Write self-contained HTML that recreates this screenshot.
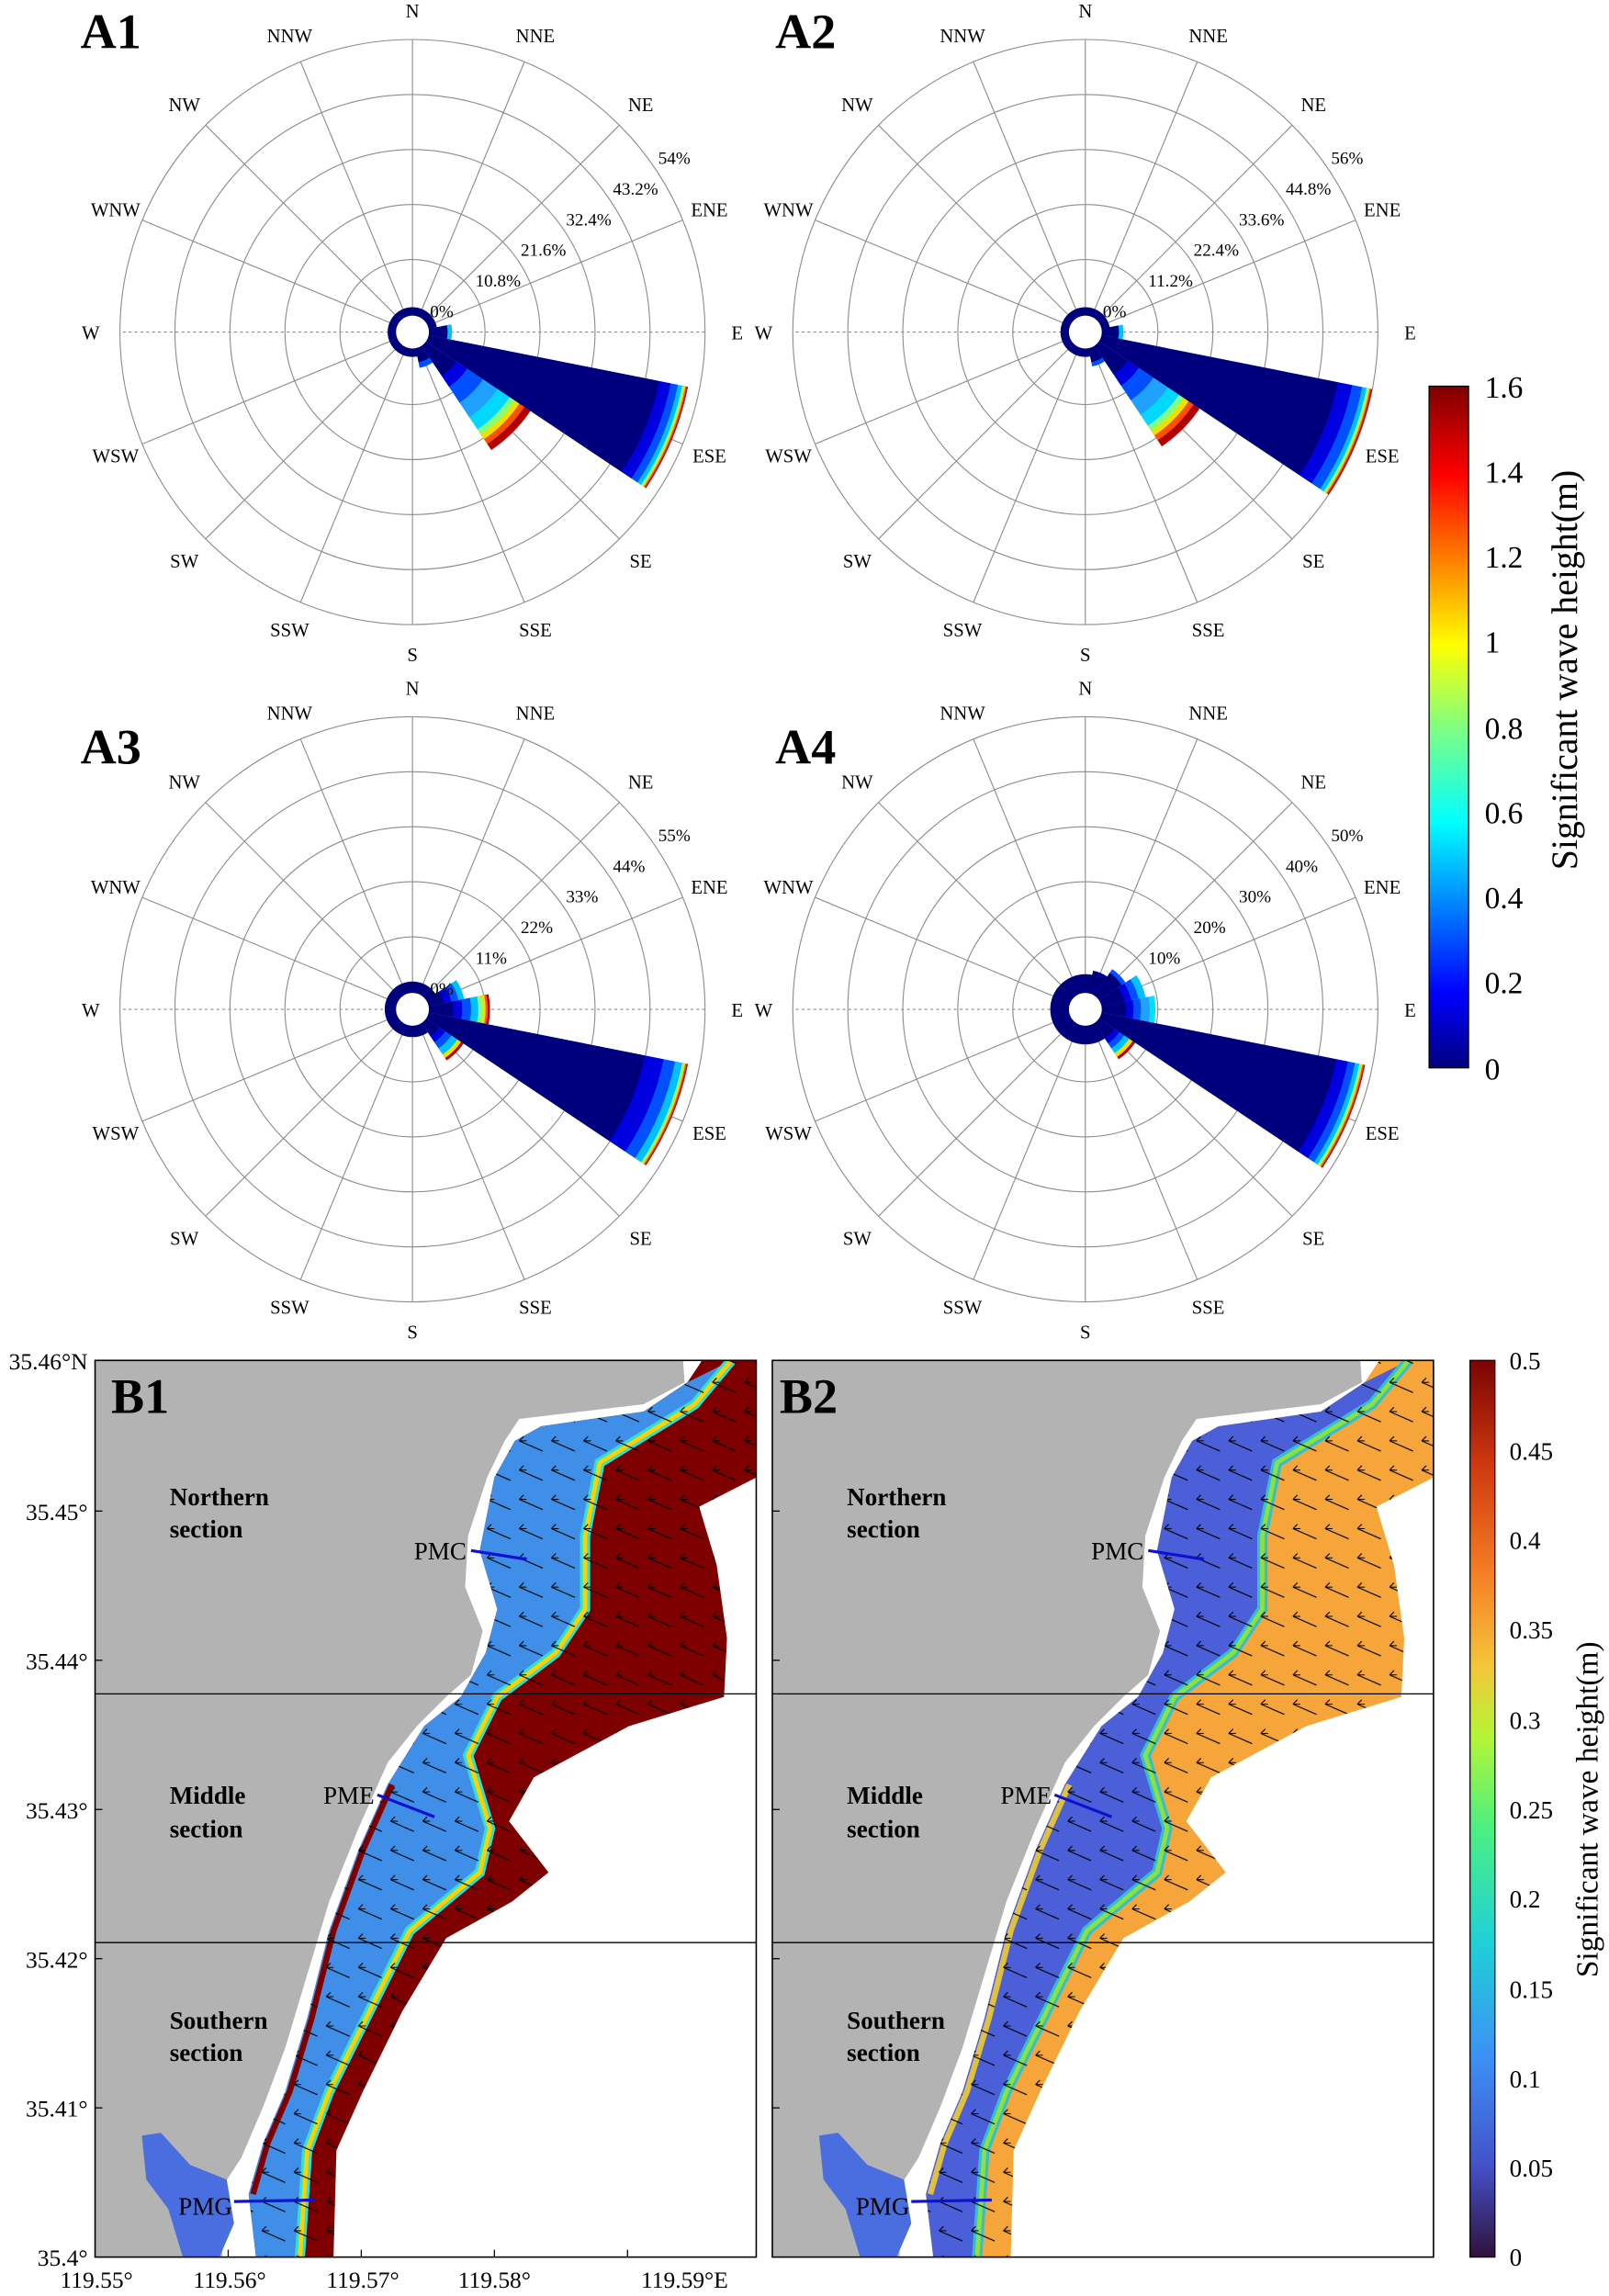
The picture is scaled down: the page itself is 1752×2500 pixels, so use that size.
<!DOCTYPE html>
<html><head><meta charset="utf-8">
<style>
html,body{margin:0;padding:0;background:#fff;}
svg{display:block;}
text{font-family:"Liberation Serif",serif;}
</style></head>
<body>
<svg width="1752" height="2500" viewBox="0 0 1100 1569.6" preserveAspectRatio="none" xmlns="http://www.w3.org/2000/svg" xmlns:xlink="http://www.w3.org/1999/xlink">
<defs>
<linearGradient id="jet" x1="0" y1="1" x2="0" y2="0">
<stop offset="0" stop-color="#00007f"/><stop offset="0.11" stop-color="#0000ff"/><stop offset="0.36" stop-color="#00ffff"/><stop offset="0.5" stop-color="#80ff80"/><stop offset="0.62" stop-color="#ffff00"/><stop offset="0.87" stop-color="#ff0000"/><stop offset="1" stop-color="#7f0000"/>
</linearGradient>
<linearGradient id="cb2" x1="0" y1="1" x2="0" y2="0">
<stop offset="0" stop-color="#30123b"/><stop offset="0.1" stop-color="#4450c8"/><stop offset="0.22" stop-color="#3d8ff5"/><stop offset="0.35" stop-color="#1fd0d8"/><stop offset="0.48" stop-color="#4cf080"/><stop offset="0.58" stop-color="#b5f535"/><stop offset="0.66" stop-color="#f5c53a"/><stop offset="0.76" stop-color="#f58025"/><stop offset="0.88" stop-color="#d03a10"/><stop offset="1" stop-color="#7a0403"/>
</linearGradient>
<clipPath id="c1"><rect x="65" y="930" width="452" height="613"/></clipPath>
<clipPath id="c2"><rect x="528" y="930" width="452" height="613"/></clipPath>
<path id="u" d="M0,0 L-0.1951,-0.9808 A1,1 0 0 1 0.1951,-0.9808 Z"/>
<pattern id="arr" width="22" height="20" patternUnits="userSpaceOnUse">
<path d="M19,12 l-16,-7 m0,0 l5,0 m-5,0 l3,-3" stroke="#000" stroke-width="0.7" fill="none"/>
</pattern>
<g id="grid" fill="none" stroke="#8c8c8c" stroke-width="0.7">
<circle r="12"/><circle r="49.6"/><circle r="87.2"/><circle r="124.8"/><circle r="162.4"/><circle r="200"/>
<line x1="0" y1="-200" x2="0" y2="200"/>
<line x1="0" y1="-200" x2="0" y2="200" transform="rotate(22.5)"/>
<line x1="0" y1="-200" x2="0" y2="200" transform="rotate(45)"/>
<line x1="0" y1="-200" x2="0" y2="200" transform="rotate(67.5)"/>
<line x1="0" y1="-200" x2="0" y2="200" transform="rotate(90)" stroke-dasharray="2,2"/>
<line x1="0" y1="-200" x2="0" y2="200" transform="rotate(112.5)"/>
<line x1="0" y1="-200" x2="0" y2="200" transform="rotate(135)"/>
<line x1="0" y1="-200" x2="0" y2="200" transform="rotate(157.5)"/>
</g>
<g id="dl" font-size="13" text-anchor="middle">
<text x="0" y="-215">N</text><text x="84" y="-198">NNE</text><text x="156" y="-151">NE</text><text x="203" y="-79">ENE</text><text x="222" y="5">E</text><text x="203" y="89">ESE</text><text x="156" y="161">SE</text><text x="84" y="208">SSE</text><text x="0" y="225">S</text><text x="-84" y="208">SSW</text><text x="-156" y="161">SW</text><text x="-203" y="89">WSW</text><text x="-220" y="5">W</text><text x="-203" y="-79">WNW</text><text x="-156" y="-151">NW</text><text x="-84" y="-198">NNW</text>
</g>
</defs>

<!-- A1 -->
<g transform="translate(282,227)">
<use xlink:href="#grid"/>
<circle r="17" fill="#00007f"/>
<g transform="rotate(90)"><use xlink:href="#u" fill="#00c0ff" transform="scale(27)"/><use xlink:href="#u" fill="#00007f" transform="scale(24)"/></g>
<g transform="rotate(157.5)"><use xlink:href="#u" fill="#0050ff" transform="scale(25)"/><use xlink:href="#u" fill="#00007f" transform="scale(21)"/></g>
<g transform="rotate(135)">
<use xlink:href="#u" fill="#b00000" transform="scale(97)"/><use xlink:href="#u" fill="#ff5000" transform="scale(92)"/><use xlink:href="#u" fill="#f0e000" transform="scale(88)"/><use xlink:href="#u" fill="#80ff80" transform="scale(84)"/><use xlink:href="#u" fill="#00d8ff" transform="scale(80)"/><use xlink:href="#u" fill="#20a0ff" transform="scale(70)"/><use xlink:href="#u" fill="#0050ff" transform="scale(58)"/><use xlink:href="#u" fill="#0000e0" transform="scale(45)"/><use xlink:href="#u" fill="#00007f" transform="scale(36)"/>
</g>
<g transform="rotate(112.5)">
<use xlink:href="#u" fill="#b00000" transform="scale(192)"/><use xlink:href="#u" fill="#ff5000" transform="scale(191.1)"/><use xlink:href="#u" fill="#f0e000" transform="scale(190.2)"/><use xlink:href="#u" fill="#80ff80" transform="scale(189.2)"/><use xlink:href="#u" fill="#00c0ff" transform="scale(188)"/><use xlink:href="#u" fill="#0050ff" transform="scale(185)"/><use xlink:href="#u" fill="#0000e0" transform="scale(180)"/><use xlink:href="#u" fill="#00007f" transform="scale(172)"/>
</g>
<circle r="12" fill="#fff" stroke="#00007f" stroke-width="1.5"/>
<use xlink:href="#dl"/>
<g font-size="12"><text x="12" y="-10">0%</text><text x="43" y="-31">10.8%</text><text x="74" y="-52">21.6%</text><text x="105" y="-73">32.4%</text><text x="137" y="-94">43.2%</text><text x="168" y="-115">54%</text></g>
</g>

<!-- A2 -->
<g transform="translate(742,227)">
<use xlink:href="#grid"/>
<circle r="17" fill="#00007f"/>
<g transform="rotate(90)"><use xlink:href="#u" fill="#00c0ff" transform="scale(26)"/><use xlink:href="#u" fill="#00007f" transform="scale(23)"/></g>
<g transform="rotate(157.5)"><use xlink:href="#u" fill="#0050ff" transform="scale(24)"/><use xlink:href="#u" fill="#00007f" transform="scale(21)"/></g>
<g transform="rotate(135)">
<use xlink:href="#u" fill="#b00000" transform="scale(94)"/><use xlink:href="#u" fill="#ff5000" transform="scale(89)"/><use xlink:href="#u" fill="#f0e000" transform="scale(85)"/><use xlink:href="#u" fill="#80ff80" transform="scale(81)"/><use xlink:href="#u" fill="#00d8ff" transform="scale(77)"/><use xlink:href="#u" fill="#20a0ff" transform="scale(68)"/><use xlink:href="#u" fill="#0050ff" transform="scale(56)"/><use xlink:href="#u" fill="#0000e0" transform="scale(44)"/><use xlink:href="#u" fill="#00007f" transform="scale(35)"/>
</g>
<g transform="rotate(112.5)">
<use xlink:href="#u" fill="#b00000" transform="scale(200)"/><use xlink:href="#u" fill="#ff5000" transform="scale(199.1)"/><use xlink:href="#u" fill="#f0e000" transform="scale(198.2)"/><use xlink:href="#u" fill="#80ff80" transform="scale(197.2)"/><use xlink:href="#u" fill="#00c0ff" transform="scale(196)"/><use xlink:href="#u" fill="#0050ff" transform="scale(193)"/><use xlink:href="#u" fill="#0000e0" transform="scale(186)"/><use xlink:href="#u" fill="#00007f" transform="scale(176)"/>
</g>
<circle r="12" fill="#fff" stroke="#00007f" stroke-width="1.5"/>
<use xlink:href="#dl"/>
<g font-size="12"><text x="12" y="-10">0%</text><text x="43" y="-31">11.2%</text><text x="74" y="-52">22.4%</text><text x="105" y="-73">33.6%</text><text x="137" y="-94">44.8%</text><text x="168" y="-115">56%</text></g>
</g>

<!-- A3 -->
<g transform="translate(282,690)">
<use xlink:href="#grid"/>
<circle r="19" fill="#00007f"/>
<g transform="rotate(67.5)">
<use xlink:href="#u" fill="#00c0ff" transform="scale(36)"/><use xlink:href="#u" fill="#0050ff" transform="scale(32)"/><use xlink:href="#u" fill="#0000e0" transform="scale(27)"/><use xlink:href="#u" fill="#00007f" transform="scale(22)"/>
</g>
<g transform="rotate(90)">
<use xlink:href="#u" fill="#b00000" transform="scale(53)"/><use xlink:href="#u" fill="#ff5000" transform="scale(51.5)"/><use xlink:href="#u" fill="#f0e000" transform="scale(50)"/><use xlink:href="#u" fill="#80ff80" transform="scale(48)"/><use xlink:href="#u" fill="#00c0ff" transform="scale(45)"/><use xlink:href="#u" fill="#0050ff" transform="scale(40)"/><use xlink:href="#u" fill="#0000e0" transform="scale(34)"/><use xlink:href="#u" fill="#00007f" transform="scale(28)"/>
</g>
<g transform="rotate(135)">
<use xlink:href="#u" fill="#c00000" transform="scale(42)"/><use xlink:href="#u" fill="#f0e000" transform="scale(40)"/><use xlink:href="#u" fill="#00c0ff" transform="scale(37)"/><use xlink:href="#u" fill="#0050ff" transform="scale(32)"/><use xlink:href="#u" fill="#0000e0" transform="scale(27)"/><use xlink:href="#u" fill="#00007f" transform="scale(22)"/>
</g>
<g transform="rotate(112.5)">
<use xlink:href="#u" fill="#b00000" transform="scale(192)"/><use xlink:href="#u" fill="#ff5000" transform="scale(191.1)"/><use xlink:href="#u" fill="#f0e000" transform="scale(190.2)"/><use xlink:href="#u" fill="#80ff80" transform="scale(189.2)"/><use xlink:href="#u" fill="#00c0ff" transform="scale(188)"/><use xlink:href="#u" fill="#0050ff" transform="scale(183)"/><use xlink:href="#u" fill="#0000e0" transform="scale(175)"/><use xlink:href="#u" fill="#00007f" transform="scale(162)"/>
</g>
<circle r="12" fill="#fff" stroke="#00007f" stroke-width="1.5"/>
<use xlink:href="#dl"/>
<g font-size="12"><text x="12" y="-10">0%</text><text x="43" y="-31">11%</text><text x="74" y="-52">22%</text><text x="105" y="-73">33%</text><text x="137" y="-94">44%</text><text x="168" y="-115">55%</text></g>
</g>

<!-- A4 -->
<g transform="translate(742,690)">
<use xlink:href="#grid"/>
<circle r="24" fill="#00007f"/>
<g transform="rotate(22.5)"><use xlink:href="#u" fill="#00007f" transform="scale(27)"/></g>
<g transform="rotate(45)"><use xlink:href="#u" fill="#0050ff" transform="scale(33)"/><use xlink:href="#u" fill="#00007f" transform="scale(30)"/></g>
<g transform="rotate(67.5)">
<use xlink:href="#u" fill="#00c0ff" transform="scale(42)"/><use xlink:href="#u" fill="#0050ff" transform="scale(37)"/><use xlink:href="#u" fill="#0000e0" transform="scale(32)"/><use xlink:href="#u" fill="#00007f" transform="scale(27)"/>
</g>
<g transform="rotate(90)">
<use xlink:href="#u" fill="#00e0ff" transform="scale(48)"/><use xlink:href="#u" fill="#20a0ff" transform="scale(44)"/><use xlink:href="#u" fill="#0050ff" transform="scale(38)"/><use xlink:href="#u" fill="#0000e0" transform="scale(33)"/><use xlink:href="#u" fill="#00007f" transform="scale(28)"/>
</g>
<g transform="rotate(135)">
<use xlink:href="#u" fill="#c00000" transform="scale(41)"/><use xlink:href="#u" fill="#f0e000" transform="scale(39)"/><use xlink:href="#u" fill="#00c0ff" transform="scale(36)"/><use xlink:href="#u" fill="#0050ff" transform="scale(32)"/><use xlink:href="#u" fill="#0000e0" transform="scale(28)"/><use xlink:href="#u" fill="#00007f" transform="scale(24)"/>
</g>
<g transform="rotate(112.5)">
<use xlink:href="#u" fill="#b00000" transform="scale(195)"/><use xlink:href="#u" fill="#ff5000" transform="scale(194.1)"/><use xlink:href="#u" fill="#f0e000" transform="scale(193.2)"/><use xlink:href="#u" fill="#80ff80" transform="scale(192.2)"/><use xlink:href="#u" fill="#00c0ff" transform="scale(191)"/><use xlink:href="#u" fill="#0050ff" transform="scale(188)"/><use xlink:href="#u" fill="#0000e0" transform="scale(183)"/><use xlink:href="#u" fill="#00007f" transform="scale(175)"/>
</g>
<circle r="12" fill="#fff" stroke="#00007f" stroke-width="1.5"/>
<use xlink:href="#dl"/>
<g font-size="12"><text x="43" y="-31">10%</text><text x="74" y="-52">20%</text><text x="105" y="-73">30%</text><text x="137" y="-94">40%</text><text x="168" y="-115">50%</text></g>
</g>

<g font-weight="bold" font-size="34">
<text x="55" y="33">A1</text><text x="530" y="33">A2</text>
<text x="55" y="522">A3</text><text x="530" y="522">A4</text>
</g>

<!-- colorbar A -->
<rect x="977" y="264" width="27" height="466" fill="url(#jet)" stroke="#000" stroke-width="0.8"/>
<g font-size="21">
<text x="1015" y="272">1.6</text><text x="1015" y="330">1.4</text><text x="1015" y="388">1.2</text><text x="1015" y="446">1</text><text x="1015" y="505">0.8</text><text x="1015" y="563">0.6</text><text x="1015" y="621">0.4</text><text x="1015" y="679">0.2</text><text x="1015" y="738">0</text>
</g>
<text transform="translate(1078,458) rotate(-90)" text-anchor="middle" font-size="25">Significant wave height(m)</text>

<!-- B1 -->
<g clip-path="url(#c1)">
<polygon points="65,930 467,930 468,945 440,960 355,970 345,985 333,1010 320,1050 318,1085 330,1115 322,1145 305,1160 285,1180 265,1205 245,1250 225,1300 210,1350 195,1400 180,1440 165,1475 152,1495 152,1543 65,1543" fill="#b3b3b3"/>
<polygon points="480,930 517,930 517,1010 478,1030 490,1070 497,1120 495,1160 430,1180 365,1215 348,1245 375,1280 350,1300 305,1325 275,1375 248,1430 230,1470 228,1543 175,1543 170,1500 180,1465 195,1430 210,1380 225,1320 245,1265 265,1220 290,1180 315,1160 332,1130 340,1100 328,1060 338,1010 352,985 370,975 440,965 470,945" fill="#7f0000"/>
<polygon points="500,930 475,960 410,1000 400,1050 400,1100 380,1130 340,1160 320,1200 335,1250 328,1280 280,1320 250,1380 225,1430 210,1470 205,1543 175,1543 170,1500 180,1465 195,1430 210,1380 225,1320 245,1265 265,1220 290,1180 315,1160 332,1130 340,1100 328,1060 338,1010 352,985 370,975 440,965 470,945" fill="#3f8fe8"/>
<polyline points="500,930 475,960 410,1000 400,1050 400,1100 380,1130 340,1160 320,1200 335,1250 328,1280 280,1320 250,1380 225,1430 210,1470 205,1543" fill="none" stroke="#30e0d0" stroke-width="7"/>
<polyline points="500,930 475,960 410,1000 400,1050 400,1100 380,1130 340,1160 320,1200 335,1250 328,1280 280,1320 250,1380 225,1430 210,1470 205,1543" fill="none" stroke="#ffd000" stroke-width="3"/>
<polyline points="268,1220 248,1265 228,1320 213,1380 198,1430 183,1465 173,1500" fill="none" stroke="#800000" stroke-width="4"/>
<polygon points="97,1460 110,1458 130,1480 155,1490 160,1520 150,1543 125,1543 115,1510 100,1490" fill="#4a6ee0"/>
<polygon points="480,930 517,930 517,1010 478,1030 490,1070 497,1120 495,1160 430,1180 365,1215 348,1245 375,1280 350,1300 305,1325 275,1375 248,1430 230,1470 228,1543 175,1543 170,1500 180,1465 195,1430 210,1380 225,1320 245,1265 265,1220 290,1180 315,1160 332,1130 340,1100 328,1060 338,1010 352,985 370,975 440,965 470,945" fill="url(#arr)"/>
</g>

<!-- B2 -->
<g clip-path="url(#c2)"><g transform="translate(463,0)">
<polygon points="65,930 467,930 468,945 440,960 355,970 345,985 333,1010 320,1050 318,1085 330,1115 322,1145 305,1160 285,1180 265,1205 245,1250 225,1300 210,1350 195,1400 180,1440 165,1475 152,1495 152,1543 65,1543" fill="#b3b3b3"/>
<polygon points="480,930 517,930 517,1010 478,1030 490,1070 497,1120 495,1160 430,1180 365,1215 348,1245 375,1280 350,1300 305,1325 275,1375 248,1430 230,1470 228,1543 175,1543 170,1500 180,1465 195,1430 210,1380 225,1320 245,1265 265,1220 290,1180 315,1160 332,1130 340,1100 328,1060 338,1010 352,985 370,975 440,965 470,945" fill="#f5a53a"/>
<polygon points="500,930 475,960 410,1000 400,1050 400,1100 380,1130 340,1160 320,1200 335,1250 328,1280 280,1320 250,1380 225,1430 210,1470 205,1543 175,1543 170,1500 180,1465 195,1430 210,1380 225,1320 245,1265 265,1220 290,1180 315,1160 332,1130 340,1100 328,1060 338,1010 352,985 370,975 440,965 470,945" fill="#4a5fd8"/>
<polyline points="500,930 475,960 410,1000 400,1050 400,1100 380,1130 340,1160 320,1200 335,1250 328,1280 280,1320 250,1380 225,1430 210,1470 205,1543" fill="none" stroke="#30c0d0" stroke-width="7"/>
<polyline points="500,930 475,960 410,1000 400,1050 400,1100 380,1130 340,1160 320,1200 335,1250 328,1280 280,1320 250,1380 225,1430 210,1470 205,1543" fill="none" stroke="#8ee040" stroke-width="3"/>
<polyline points="268,1220 248,1265 228,1320 213,1380 198,1430 183,1465 173,1500" fill="none" stroke="#e0c040" stroke-width="4"/>
<polygon points="97,1460 110,1458 130,1480 155,1490 160,1520 150,1543 125,1543 115,1510 100,1490" fill="#4a6ee0"/>
<polygon points="480,930 517,930 517,1010 478,1030 490,1070 497,1120 495,1160 430,1180 365,1215 348,1245 375,1280 350,1300 305,1325 275,1375 248,1430 230,1470 228,1543 175,1543 170,1500 180,1465 195,1430 210,1380 225,1320 245,1265 265,1220 290,1180 315,1160 332,1130 340,1100 328,1060 338,1010 352,985 370,975 440,965 470,945" fill="url(#arr)"/>
</g></g>

<rect x="65" y="930" width="452" height="613" fill="none" stroke="#000" stroke-width="1"/>
<rect x="528" y="930" width="452" height="613" fill="none" stroke="#000" stroke-width="1"/>
<g stroke="#000" stroke-width="0.8">
<line x1="65" y1="1158" x2="517" y2="1158"/><line x1="65" y1="1328" x2="517" y2="1328"/>
<line x1="528" y1="1158" x2="980" y2="1158"/><line x1="528" y1="1328" x2="980" y2="1328"/>
</g>
<g font-weight="bold" font-size="34"><text x="76" y="966">B1</text><text x="533" y="966">B2</text></g>
<g font-weight="bold" font-size="17">
<text x="116" y="1029">Northern</text><text x="116" y="1051">section</text>
<text x="116" y="1233">Middle</text><text x="116" y="1256">section</text>
<text x="116" y="1387">Southern</text><text x="116" y="1409">section</text>
<text x="579" y="1029">Northern</text><text x="579" y="1051">section</text>
<text x="579" y="1233">Middle</text><text x="579" y="1256">section</text>
<text x="579" y="1387">Southern</text><text x="579" y="1409">section</text>
</g>
<g font-size="17">
<text x="283" y="1066">PMC</text><text x="221" y="1233">PME</text><text x="122" y="1514">PMG</text>
<text x="746" y="1066">PMC</text><text x="684" y="1233">PME</text><text x="585" y="1514">PMG</text>
</g>
<g stroke="#1010d0" stroke-width="2">
<line x1="322" y1="1060" x2="360" y2="1066"/><line x1="258" y1="1227" x2="297" y2="1242"/><line x1="160" y1="1505" x2="215" y2="1504"/>
<line x1="785" y1="1060" x2="823" y2="1066"/><line x1="721" y1="1227" x2="760" y2="1242"/><line x1="623" y1="1505" x2="678" y2="1504"/>
</g>
<g font-size="16" text-anchor="end">
<text x="60" y="936">35.46°N</text><text x="60" y="1039">35.45°</text><text x="60" y="1141">35.44°</text><text x="60" y="1243">35.43°</text><text x="60" y="1345">35.42°</text><text x="60" y="1447">35.41°</text><text x="60" y="1549">35.4°</text>
</g>
<g font-size="16" text-anchor="middle">
<text x="66" y="1564">119.55°</text><text x="157" y="1564">119.56°</text><text x="248" y="1564">119.57°</text><text x="338" y="1564">119.58°</text><text x="468" y="1564">119.59°E</text>
</g>
<g stroke="#000" stroke-width="0.8">
<line x1="65" y1="1033" x2="70" y2="1033"/><line x1="65" y1="1135" x2="70" y2="1135"/><line x1="65" y1="1237" x2="70" y2="1237"/><line x1="65" y1="1339" x2="70" y2="1339"/><line x1="65" y1="1441" x2="70" y2="1441"/>
<line x1="156" y1="1543" x2="156" y2="1538"/><line x1="247" y1="1543" x2="247" y2="1538"/><line x1="338" y1="1543" x2="338" y2="1538"/><line x1="429" y1="1543" x2="429" y2="1538"/>
<line x1="528" y1="1033" x2="533" y2="1033"/><line x1="528" y1="1135" x2="533" y2="1135"/><line x1="528" y1="1237" x2="533" y2="1237"/><line x1="528" y1="1339" x2="533" y2="1339"/><line x1="528" y1="1441" x2="533" y2="1441"/>
</g>

<!-- colorbar B -->
<rect x="1005" y="930" width="17" height="613" fill="url(#cb2)" stroke="#000" stroke-width="0.8"/>
<g font-size="17">
<text x="1032" y="936">0.5</text><text x="1032" y="998">0.45</text><text x="1032" y="1059">0.4</text><text x="1032" y="1120">0.35</text><text x="1032" y="1182">0.3</text><text x="1032" y="1243">0.25</text><text x="1032" y="1304">0.2</text><text x="1032" y="1366">0.15</text><text x="1032" y="1427">0.1</text><text x="1032" y="1488">0.05</text><text x="1032" y="1549">0</text>
</g>
<text transform="translate(1092,1237) rotate(-90)" text-anchor="middle" font-size="21">Significant wave height(m)</text>
</svg>
</body></html>
